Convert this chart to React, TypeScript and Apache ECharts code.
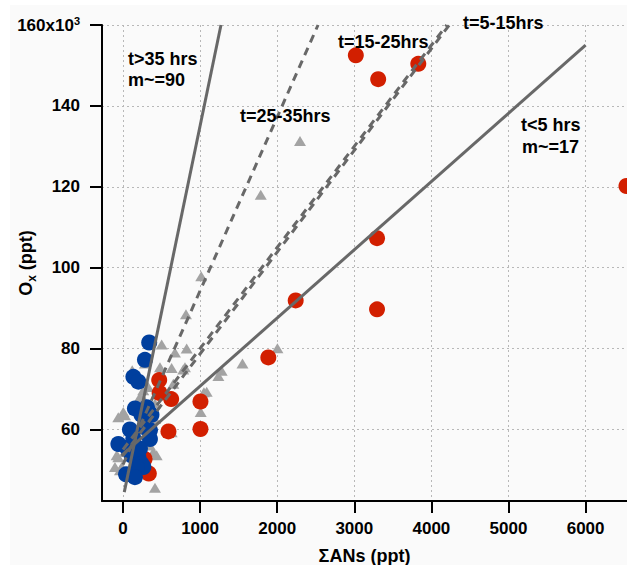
import React, { useEffect, useRef } from 'react';
import * as echarts from 'echarts';

const xTickValues = [0, 1000, 2000, 3000, 4000, 5000, 6000];
const yTickValues = [60, 80, 100, 120, 140, 160];

const redPoints = [
  [3020, 152.5], [3310, 146.6], [3830, 150.4], [6530, 120.2], [3295, 107.3], [3295, 89.7],
  [2240, 91.9], [1885, 77.8], [1005, 66.9], [1005, 60.1], [470, 72.2], [475, 69.0],
  [625, 67.5], [590, 59.5], [280, 52.7], [335, 49.1],
];

const bluePoints = [
  [340, 81.5], [285, 77.2], [135, 73.0], [200, 71.8], [155, 65.2], [310, 65.5], [240, 63.6],
  [370, 63.6], [330, 64.3], [90, 60.0], [350, 59.8], [280, 60.5], [-60, 56.4], [50, 55.5],
  [135, 57.8], [350, 57.6], [220, 55.3], [110, 53.6], [200, 53.2], [240, 51.5], [265, 50.7],
  [180, 50.6], [40, 48.9], [155, 48.2],
];

const greyPoints = [
  [2296, 131.3], [1787, 118.0], [1015, 97.9], [817, 88.5], [2003, 80.1], [1550, 76.3],
  [1280, 74.5], [1237, 73.2], [1086, 69.3], [1050, 69.2], [1008, 64.3], [826, 80.0],
  [804, 75.4], [502, 81.0], [674, 79.0], [480, 75.4], [631, 75.2], [782, 74.8], [285, 76.3],
  [120, 74.6], [328, 70.5], [263, 67.6], [263, 69.7], [220, 68.0], [415, 66.4], [458, 70.5],
  [653, 71.3], [-61, 63.0], [4, 64.3], [26, 63.5], [307, 64.7], [372, 63.5], [415, 62.6],
  [567, 60.2], [631, 59.3], [350, 59.8], [-61, 53.1], [-82, 53.6], [-104, 50.7], [-39, 49.9],
  [-17, 50.7], [26, 54.4], [393, 54.4], [437, 53.6], [350, 56.0], [415, 45.6],
];

const lineGt35 = [[17, 44.5], [1271, 160]];
const line25to35 = [[0, 51.3], [2530, 160]];
const line15to25 = [[0, 53.5], [4232, 160]];
const line5to15 = [[0, 55], [4200, 160]];
const lineLt5 = [[-20, 53.5], [6000, 155]];

const FONT = '"Liberation Sans", Arial, sans-serif';
const LINE_COLOR = '#686868';

export default function App() {
  const ref = useRef<HTMLDivElement>(null);
  useEffect(() => {
    if (!ref.current) return;
    const chart = echarts.init(ref.current, null, { renderer: 'svg' });
    const axisCommon = {
      axisLine: { show: true, onZero: false, lineStyle: { color: '#000', width: 2 } },
      axisTick: { show: true, length: 12, inside: false, lineStyle: { color: '#000', width: 2 } },
      splitLine: { show: true, lineStyle: { color: '#b8b8b8', width: 1, type: [2, 3] } },
    };
    const textEl = (x: number, y: number, text: string) => ({
      type: 'text',
      x,
      y,
      z: 100,
      style: {
        text,
        fill: '#000',
        fontSize: 18,
        fontWeight: 'bold',
        fontFamily: FONT,
        align: 'left',
        verticalAlign: 'middle',
      },
    });
    const lineSeries = (data: number[][], dashed: boolean) => ({
      type: 'line',
      data,
      symbol: 'none',
      silent: true,
      clip: false,
      lineStyle: { color: LINE_COLOR, width: 3, type: dashed ? [8, 6] : 'solid' },
    });
    chart.setOption({
      animation: false,
      backgroundColor: '#fafafa',
      textStyle: { fontFamily: FONT },
      grid: { left: 92, top: 20, right: 0, bottom: 64, containLabel: false, outerBoundsMode: 'none' },
      xAxis: {
        type: 'value',
        min: -272,
        max: 6537,
        ...axisCommon,
        axisTick: { ...axisCommon.axisTick, customValues: xTickValues },
        axisLabel: {
          customValues: xTickValues,
          margin: 19,
          color: '#000',
          fontSize: 17,
          fontWeight: 'bold',
          fontFamily: FONT,
          formatter: (v: number) => String(v),
        },
        name: 'ΣANs (ppt)',
        nameLocation: 'middle',
        nameGap: 46,
        nameMoveOverlap: false,
        nameTextStyle: { color: '#000', fontSize: 18, fontWeight: 'bold', fontFamily: FONT },
      },
      yAxis: {
        type: 'value',
        min: 42.3,
        max: 160,
        ...axisCommon,
        axisTick: { ...axisCommon.axisTick, customValues: yTickValues },
        axisLabel: {
          customValues: yTickValues,
          margin: 22,
          color: '#000',
          fontSize: 17,
          fontWeight: 'bold',
          fontFamily: FONT,
          formatter: (v: number) => (v === 160 ? '{a|160x10}{sup|3}' : '{a|' + v + '}'),
          rich: {
            a: { fontSize: 17, fontWeight: 'bold', fontFamily: FONT, color: '#000', lineHeight: 20 },
            sup: { fontSize: 11, fontWeight: 'bold', fontFamily: FONT, color: '#000', verticalAlign: 'top', lineHeight: 20 },
          },
        },
        name: 'O{sub|x} (ppt)',
        nameLocation: 'middle',
        nameGap: 64,
        nameRotate: 90,
        nameMoveOverlap: false,
        nameTextStyle: {
          color: '#000',
          fontSize: 18,
          fontWeight: 'bold',
          fontFamily: FONT,
          rich: {
            sub: { fontSize: 12, fontWeight: 'bold', fontFamily: FONT, color: '#000', verticalAlign: 'bottom', lineHeight: 24 },
          },
        },
      },
      series: [
        {
          type: 'scatter',
          data: greyPoints,
          symbol: 'triangle',
          symbolSize: [12, 10],
          itemStyle: { color: '#a3a3a3', opacity: 1 },
        },
        {
          type: 'scatter',
          data: redPoints,
          symbol: 'circle',
          symbolSize: 16,
          itemStyle: { color: '#d21f00', opacity: 1 },
        },
        {
          type: 'scatter',
          data: bluePoints,
          symbol: 'circle',
          symbolSize: 16,
          itemStyle: { color: '#003f9e', opacity: 1 },
        },
        lineSeries(lineGt35, false),
        lineSeries(line25to35, true),
        lineSeries(line15to25, true),
        lineSeries(line5to15, true),
        lineSeries(lineLt5, false),
      ],
      graphic: [
        textEl(118, 54, 't>35 hrs'),
        textEl(118, 75, 'm~=90'),
        textEl(230, 111, 't=25-35hrs'),
        textEl(328, 37, 't=15-25hrs'),
        textEl(453, 18, 't=5-15hrs'),
        textEl(511, 120, 't<5 hrs'),
        textEl(512, 142, 'm~=17'),
      ],
    });
    return () => chart.dispose();
  }, []);
  return (
    <div style={{ position: 'absolute', left: 0, top: 0, width: 627, height: 569, background: '#fff', overflow: 'hidden' }}>
      <div ref={ref} style={{ position: 'absolute', left: 10, top: 5, width: 617, height: 560, overflow: 'hidden' }} />
    </div>
  );
}
